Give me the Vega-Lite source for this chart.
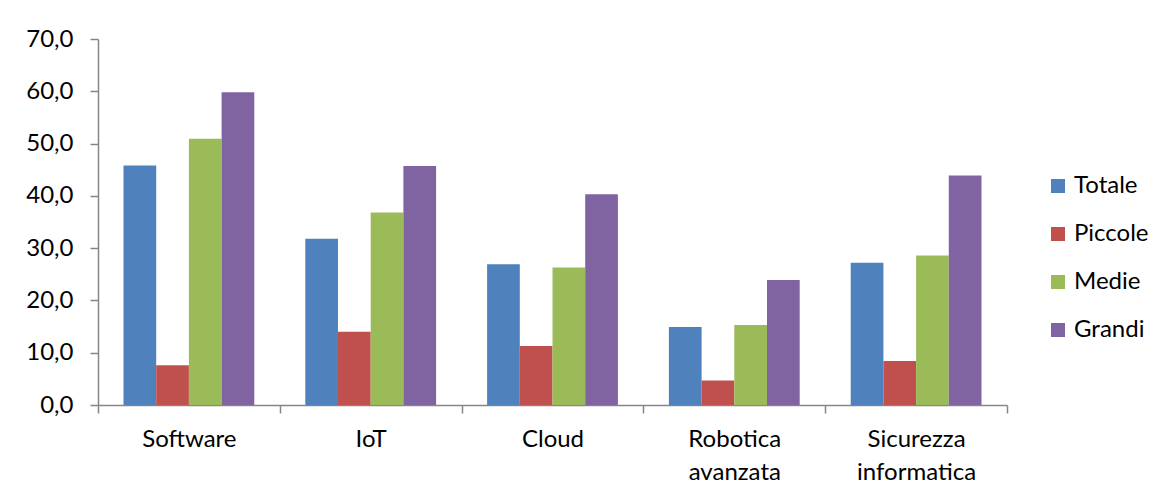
{
  "$schema": "https://vega.github.io/schema/vega-lite/v6.json",
  "autosize": "none",
  "padding": {"left": 98, "top": 39, "right": 153, "bottom": 90},
  "width": 909,
  "height": 366,
  "background": "white",
  "config": {
    "locale": {"number": {"decimal": ",", "thousands": ".", "grouping": [3], "currency": ["€", ""]}},
    "view": {"stroke": null},
    "font": "Lato"
  },
  "data": {
    "values": [
      {"categoria": "Software", "gruppo": "Totale", "valore": 45.8},
      {"categoria": "Software", "gruppo": "Piccole", "valore": 7.6},
      {"categoria": "Software", "gruppo": "Medie", "valore": 50.9},
      {"categoria": "Software", "gruppo": "Grandi", "valore": 59.8},
      {"categoria": "IoT", "gruppo": "Totale", "valore": 31.8},
      {"categoria": "IoT", "gruppo": "Piccole", "valore": 14.0},
      {"categoria": "IoT", "gruppo": "Medie", "valore": 36.8},
      {"categoria": "IoT", "gruppo": "Grandi", "valore": 45.7},
      {"categoria": "Cloud", "gruppo": "Totale", "valore": 26.9},
      {"categoria": "Cloud", "gruppo": "Piccole", "valore": 11.3},
      {"categoria": "Cloud", "gruppo": "Medie", "valore": 26.3},
      {"categoria": "Cloud", "gruppo": "Grandi", "valore": 40.3},
      {"categoria": "Robotica avanzata", "gruppo": "Totale", "valore": 14.9},
      {"categoria": "Robotica avanzata", "gruppo": "Piccole", "valore": 4.7},
      {"categoria": "Robotica avanzata", "gruppo": "Medie", "valore": 15.3},
      {"categoria": "Robotica avanzata", "gruppo": "Grandi", "valore": 23.9},
      {"categoria": "Sicurezza informatica", "gruppo": "Totale", "valore": 27.2},
      {"categoria": "Sicurezza informatica", "gruppo": "Piccole", "valore": 8.4},
      {"categoria": "Sicurezza informatica", "gruppo": "Medie", "valore": 28.6},
      {"categoria": "Sicurezza informatica", "gruppo": "Grandi", "valore": 43.9}
    ]
  },
  "mark": {"type": "bar"},
  "encoding": {
    "x": {
      "field": "categoria",
      "type": "nominal",
      "sort": null,
      "scale": {"paddingInner": 0, "paddingOuter": 0},
      "axis": {
        "title": null,
        "labelAngle": 0,
        "tickBand": "extent",
        "domainColor": "#868686",
        "domainWidth": 1.5,
        "tickColor": "#868686",
        "tickWidth": 1.5,
        "tickSize": 8,
        "labelPadding": 14,
        "labelFontSize": 24,
        "labelColor": "black",
        "labelLineHeight": 33,
        "labelExpr": "split(datum.label, ' ')"
      }
    },
    "xOffset": {
      "field": "gruppo",
      "type": "nominal",
      "sort": ["Totale", "Piccole", "Medie", "Grandi"],
      "scale": {"paddingInner": 0, "paddingOuter": 0.78}
    },
    "y": {
      "field": "valore",
      "type": "quantitative",
      "scale": {"domain": [0, 70], "nice": false},
      "axis": {
        "title": null,
        "values": [0, 10, 20, 30, 40, 50, 60, 70],
        "format": ".1f",
        "grid": false,
        "domainColor": "#868686",
        "domainWidth": 1.5,
        "tickColor": "#868686",
        "tickWidth": 1.5,
        "tickSize": 8,
        "labelPadding": 17,
        "labelFontSize": 24,
        "labelColor": "black"
      }
    },
    "color": {
      "field": "gruppo",
      "type": "nominal",
      "sort": ["Totale", "Piccole", "Medie", "Grandi"],
      "scale": {
        "domain": ["Totale", "Piccole", "Medie", "Grandi"],
        "range": ["#4F81BD", "#C0504D", "#9BBB59", "#8064A2"]
      },
      "legend": {
        "title": null,
        "orient": "none",
        "legendX": 948,
        "legendY": 135,
        "symbolType": "square",
        "symbolSize": 196,
        "symbolStrokeWidth": 0,
        "symbolOpacity": 1,
        "labelFontSize": 24,
        "labelColor": "black",
        "labelOffset": 4,
        "rowPadding": 24
      }
    }
  }
}
